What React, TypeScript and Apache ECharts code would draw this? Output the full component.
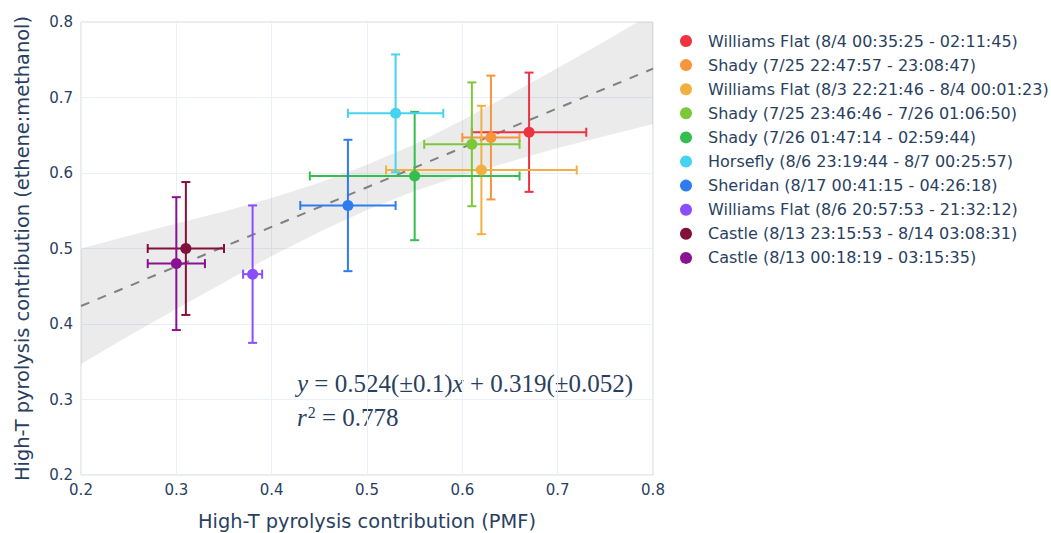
import React, { useEffect, useRef } from "react";
import * as echarts from "echarts";

const names = [
  "Williams Flat (8/4 00:35:25 - 02:11:45)",
  "Shady (7/25 22:47:57 - 23:08:47)",
  "Williams Flat (8/3 22:21:46 - 8/4 00:01:23)",
  "Shady (7/25 23:46:46 - 7/26 01:06:50)",
  "Shady (7/26 01:47:14 - 02:59:44)",
  "Horsefly (8/6 23:19:44 - 8/7 00:25:57)",
  "Sheridan (8/17 00:41:15 - 04:26:18)",
  "Williams Flat (8/6 20:57:53 - 21:32:12)",
  "Castle (8/13 23:15:53 - 8/14 03:08:31)",
  "Castle (8/13 00:18:19 - 03:15:35)",
];
const colors = [
  "#EE3240", "#F7953B", "#F1B040", "#7DC83A", "#35BE50",
  "#45D3F0", "#2F7CF0", "#8C4DFA", "#81103A", "#8A1192",
];
const xVals = [0.67, 0.63, 0.62, 0.61, 0.55, 0.53, 0.48, 0.38, 0.31, 0.30];
const yVals = [0.654, 0.647, 0.604, 0.638, 0.596, 0.679, 0.557, 0.466, 0.5, 0.48];
const xErr = [0.06, 0.03, 0.1, 0.05, 0.11, 0.05, 0.05, 0.01, 0.04, 0.03];
const yErr = [0.079, 0.082, 0.085, 0.082, 0.085, 0.078, 0.087, 0.091, 0.088, 0.088];

const fitX = [0.2, 0.8];
const fitY = [0.4238, 0.7382];
const bandX = [0.2, 0.25, 0.3, 0.35, 0.4, 0.45, 0.5, 0.55, 0.6, 0.65, 0.7, 0.75, 0.8];
const bandLower = [0.347, 0.384, 0.42, 0.455, 0.49, 0.522, 0.551, 0.576, 0.597, 0.615, 0.633, 0.649, 0.665];
const bandUpper = [0.5, 0.517, 0.533, 0.549, 0.567, 0.587, 0.611, 0.638, 0.67, 0.704, 0.739, 0.775, 0.812];

const xTicks = [0.2, 0.3, 0.4, 0.5, 0.6, 0.7, 0.8];
const yTicks = [0.2, 0.3, 0.4, 0.5, 0.6, 0.7, 0.8];

const TXT = "#2a3f5f";
const FONT = "'DejaVu Sans', sans-serif";
const MATH = "'Liberation Serif', 'DejaVu Serif', serif";

export default function App() {
  const ref = useRef<HTMLDivElement>(null);
  useEffect(() => {
    const chart = echarts.init(ref.current!, undefined, { renderer: "svg" });
    const series: any[] = [];
    series.push({
      type: "custom",
      name: "band",
      clip: true,
      silent: true,
      z: 1,
      encode: { x: 0, y: 1 },
      data: bandX.map((x, i) => [x, bandLower[i], bandUpper[i]]),
      renderItem: (params: any, api: any) => {
        if (params.dataIndex !== 0) return null;
        const pts: number[][] = [];
        for (let i = 0; i < bandX.length; i++) pts.push(api.coord([bandX[i], bandUpper[i]]));
        for (let i = bandX.length - 1; i >= 0; i--) pts.push(api.coord([bandX[i], bandLower[i]]));
        return {
          type: "polygon",
          shape: { points: pts },
          style: { fill: "rgba(0,0,0,0.08)", stroke: "none" },
        };
      },
    });
    series.push({
      type: "line",
      name: "fit",
      data: fitX.map((x, i) => [x, fitY[i]]),
      symbol: "none",
      lineStyle: { color: "#808080", width: 2, type: [9, 9] },
      silent: true,
      z: 1,
    });
    names.forEach((n, i) => {
      series.push({
        type: "custom",
        name: n,
        itemStyle: { color: colors[i] },
        encode: { x: 0, y: 1 },
        data: [[xVals[i], yVals[i], xErr[i], yErr[i]]],
        silent: true,
        z: 2,
        renderItem: (params: any, api: any) => {
          const x = api.value(0), y = api.value(1), ex = api.value(2), ey = api.value(3);
          const l = api.coord([x - ex, y]);
          const r = api.coord([x + ex, y]);
          const t = api.coord([x, y + ey]);
          const b = api.coord([x, y - ey]);
          const cap = 4.5;
          const st = { stroke: colors[i], lineWidth: 2 };
          const ln = (x1: number, y1: number, x2: number, y2: number) => ({
            type: "line",
            shape: { x1, y1, x2, y2 },
            style: st,
          });
          return {
            type: "group",
            children: [
              ln(l[0], l[1], r[0], r[1]),
              ln(l[0], l[1] - cap, l[0], l[1] + cap),
              ln(r[0], r[1] - cap, r[0], r[1] + cap),
              ln(t[0], t[1], b[0], b[1]),
              ln(t[0] - cap, t[1], t[0] + cap, t[1]),
              ln(b[0] - cap, b[1], b[0] + cap, b[1]),
            ],
          };
        },
      });
      series.push({
        type: "scatter",
        name: n,
        symbol: "circle",
        symbolSize: 11,
        itemStyle: { color: colors[i], opacity: 1 },
        data: [[xVals[i], yVals[i]]],
        z: 2,
      });
    });

    chart.setOption({
      animation: false,
      textStyle: { fontFamily: FONT, color: TXT },
      grid: {
        left: 81, top: 22, right: 398, bottom: 58,
        outerBoundsMode: "none",
        containLabel: false,
        show: true, borderColor: "#d6d6d6", borderWidth: 1,
      },
      legend: {
        orient: "vertical",
        left: 680,
        top: 33,
        padding: 0,
        itemWidth: 12,
        itemHeight: 12,
        itemGap: 8.1,
        icon: "circle",
        data: names.map((n, i) => ({ name: n, itemStyle: { color: colors[i] } })),
        textStyle: { fontFamily: FONT, fontSize: 16, color: TXT, lineHeight: 16, padding: [0, 0, 0, 11] },
        selectedMode: false,
      },
      xAxis: {
        type: "value",
        min: xTicks[0],
        max: xTicks[xTicks.length - 1],
        interval: 0.1,
        name: "High-T pyrolysis contribution (PMF)",
        nameLocation: "middle",
        nameGap: 37,
        nameTextStyle: { fontFamily: FONT, fontSize: 19.4, color: TXT },
        axisLine: { show: false },
        axisTick: { show: false },
        axisLabel: { fontFamily: FONT, fontSize: 15, color: TXT, margin: 7, formatter: (v: number) => v.toFixed(1) },
        splitLine: { show: true, lineStyle: { color: "#EBF0F8", width: 1 } },
      },
      yAxis: {
        type: "value",
        min: yTicks[0],
        max: yTicks[yTicks.length - 1],
        interval: 0.1,
        name: "High-T pyrolysis contribution (ethene:methanol)",
        nameLocation: "middle",
        nameGap: 49,
        nameTextStyle: { fontFamily: FONT, fontSize: 19.4, color: TXT },
        axisLine: { show: false },
        axisTick: { show: false },
        axisLabel: { fontFamily: FONT, fontSize: 15, color: TXT, margin: 8, formatter: (v: number) => v.toFixed(1) },
        splitLine: { show: true, lineStyle: { color: "#EBF0F8", width: 1 } },
      },
      graphic: [
        {
          type: "text",
          left: 297,
          top: 371,
          style: {
            text: "{i|y} = 0.524(±0.1){i|x} + 0.319(±0.052)",
            font: `25px ${MATH}`,
            fill: TXT,
            rich: {
              i: { fontStyle: "italic", fontFamily: MATH, fontSize: 25, fill: TXT } as any,
            },
          },
        },
        {
          type: "text",
          left: 297,
          top: 404,
          style: {
            text: "{i|r}{s|2} = 0.778",
            font: `25px ${MATH}`,
            fill: TXT,
            rich: {
              i: { fontStyle: "italic", fontFamily: MATH, fontSize: 25, fill: TXT } as any,
              s: { fontFamily: MATH, fontSize: 16, fill: TXT, verticalAlign: "top", padding: [0, 0, 10, 1] } as any,
            },
          },
        },
      ],
      series,
    });
    return () => chart.dispose();
  }, []);
  return (
    <div
      ref={ref}
      style={{ position: "fixed", left: 0, top: 0, width: 1051, height: 533, background: "#fff" }}
    />
  );
}
